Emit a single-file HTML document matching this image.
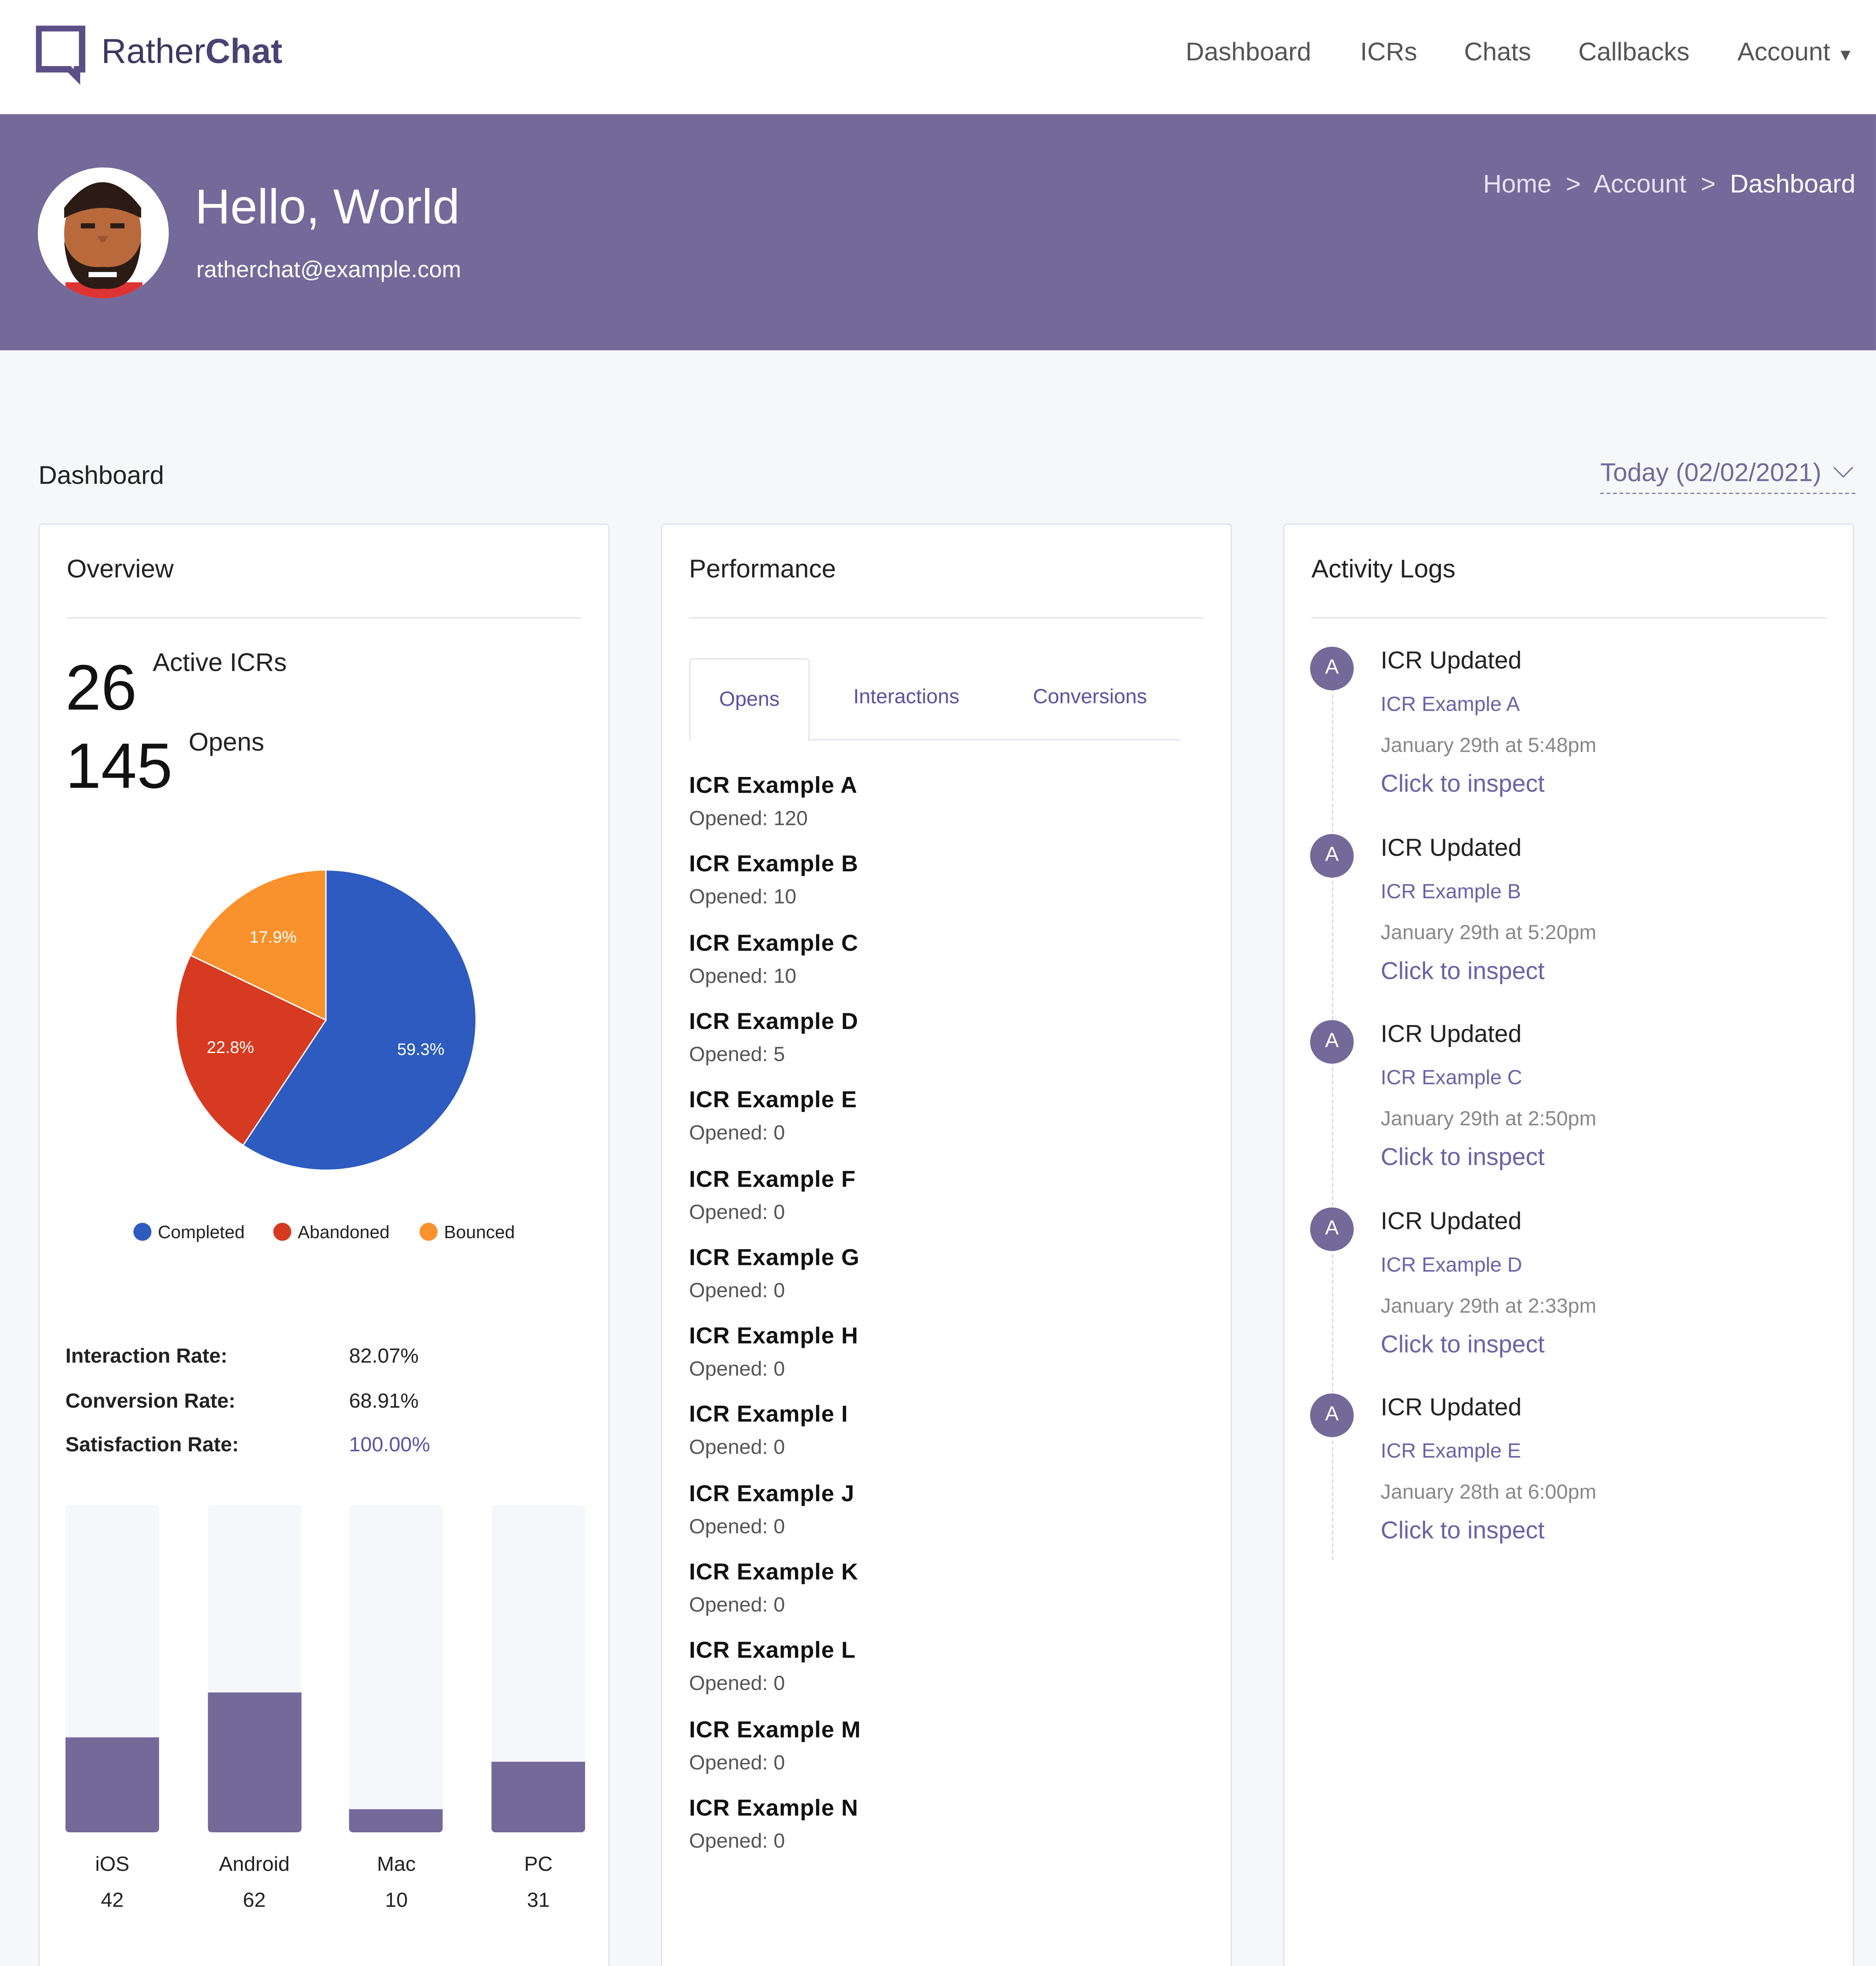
<!DOCTYPE html>
<html><head><meta charset="utf-8">
<style>
*{box-sizing:border-box;margin:0;padding:0}
html,body{width:4771px;height:5117px;overflow:hidden;background:#f6f7f9}
#root{width:1462px;height:1568px;transform:scale(3.2633);transform-origin:0 0;position:relative;font-family:"Liberation Sans",sans-serif;color:#222;background:#f6f7f9;overflow:hidden}
.abs{position:absolute;white-space:nowrap}
.card{position:absolute;top:408px;width:445px;height:1147px;background:#fff;border:1px solid #e3e3ec;border-radius:3px}
.ct{position:absolute;left:21px;top:24px;font-size:20px;color:#222}
.rule{position:absolute;left:21px;right:21px;top:72px;border-top:1px solid #e3e3ec}
.nav{font-size:20px;color:#555;top:30px}
.it{position:absolute;left:21px;white-space:nowrap}
.it b{display:block;font-size:18px;color:#111;letter-spacing:.3px}
.it span{display:block;font-size:16px;color:#555;margin-top:7px}
.log{position:absolute;left:20px}
.av{position:absolute;left:0;top:0;width:34px;height:34px;border-radius:50%;background:#736a9a;color:#fff;font-size:16px;text-align:center;line-height:34px}
.lt{position:absolute;left:55px;white-space:nowrap}
</style></head><body>
<div id="root">
<div class="abs" style="left:0;top:0;width:1462px;height:89px;background:#fff"></div>
<svg class="abs" style="left:28px;top:20px" width="40" height="48" viewBox="0 0 40 48"><path d="M2 2H36V34H32V40L26 34H2Z" fill="none" stroke="#5a4f86" stroke-width="5"/></svg>
<div class="abs" style="left:79px;top:25px;font-size:27px;color:#3d3760">Rather<b style="color:#4a4272">Chat</b></div>
<div class="abs nav" style="left:924px">Dashboard</div>
<div class="abs nav" style="left:1060px">ICRs</div>
<div class="abs nav" style="left:1141px">Chats</div>
<div class="abs nav" style="left:1230px">Callbacks</div>
<div class="abs nav" style="left:1354px">Account <span style="font-size:13px">▼</span></div>

<div class="abs" style="left:0;top:89px;width:1462px;height:184px;background:#736a9a"></div>
<svg class="abs" style="left:29px;top:130px" width="103" height="103" viewBox="0 0 103 103">
<circle cx="51.5" cy="51.5" r="51" fill="#fff"/>
<clipPath id="cc"><circle cx="51.5" cy="51.5" r="51"/></clipPath>
<g clip-path="url(#cc)"><rect x="22" y="90" width="60" height="20" fill="#d33"/>
<ellipse cx="51" cy="52" rx="30" ry="40" fill="#b86a3c"/>
<path d="M21 32Q51 -8 81 32L81 40Q51 24 21 40Z" fill="#2a1c14"/>
<path d="M21 58Q24 98 51 95Q78 98 81 58Q74 80 51 78Q28 80 21 58Z" fill="#2a1c14"/>
<rect x="34" y="44" width="11" height="4" fill="#2a1c14"/><rect x="57" y="44" width="11" height="4" fill="#2a1c14"/>
<path d="M47 54Q51 64 55 54" fill="#9a5530"/>
<rect x="40" y="82" width="22" height="4" fill="#fff"/></g></svg>
<div class="abs" style="left:152px;top:141px;font-size:38px;color:#fff">Hello, World</div>
<div class="abs" style="left:153px;top:200px;font-size:18px;color:#fff">ratherchat@example.com</div>
<div class="abs" style="right:16px;top:133px;font-size:20px;color:#e6e3f0"><span>Home</span> &nbsp;&gt;&nbsp; <span>Account</span> &nbsp;&gt;&nbsp; <span style="color:#fff">Dashboard</span></div>

<div class="abs" style="left:30px;top:360px;font-size:20px">Dashboard</div>
<div class="abs" style="right:16px;top:358px;font-size:20px;color:#736a9a;border-bottom:1.5px dashed #8a82ad;padding-bottom:3px">Today (02/02/2021) <span style="display:inline-block;width:11px;height:11px;border-right:1.5px solid #736a9a;border-bottom:1.5px solid #736a9a;transform:rotate(45deg);margin:0 4px 5px 6px"></span></div>

<div class="card" style="left:30px">
<div class="ct">Overview</div><div class="rule"></div>
<div class="abs" style="left:20px;top:98px;font-size:50px;color:#111">26</div>
<div class="abs" style="left:88px;top:97px;font-size:20px">Active ICRs</div>
<div class="abs" style="left:20px;top:159px;font-size:50px;color:#111">145</div>
<div class="abs" style="left:116px;top:159px;font-size:20px">Opens</div>
<svg class="abs" id="pie" style="left:0;top:250px" width="445" height="330"></svg>
<div class="abs" style="left:20px;top:632px;font-size:16px;font-weight:bold;line-height:34.5px">Interaction Rate:<br>Conversion Rate:<br>Satisfaction Rate:</div>
<div class="abs" style="left:241px;top:632px;font-size:16px;line-height:34.5px">82.07%<br>68.91%<br><span style="color:#5b53a0">100.00%</span></div>
<div id="bars"></div>
</div>

<div class="card" style="left:515px">
<div class="ct">Performance</div><div class="rule"></div>
<div class="abs" style="left:21px;top:167px;width:383px;border-top:1px solid #e3e3ec"></div>
<div class="abs" style="left:21px;top:104px;width:94px;height:64px;border:1px solid #e3e3ec;border-bottom:none;background:#fff;border-radius:3px 3px 0 0;font-size:16px;color:#5b53a0;text-align:center;line-height:64px">Opens</div>
<div class="abs" style="left:149px;top:126px;font-size:16px;color:#5b53a0">Interactions</div>
<div class="abs" style="left:289px;top:126px;font-size:16px;color:#5b53a0">Conversions</div>
<div id="list"></div>
</div>

<div class="card" style="left:1000px">
<div class="ct">Activity Logs</div><div class="rule"></div>
<div class="abs" style="left:37px;top:112px;height:695px;border-left:1.5px dashed #d8d6e6"></div>
<div id="logs"></div>
</div>
</div>
<script>
var pieLabels=["Completed","Abandoned","Bounced"];
var pieValues=[59.3,22.8,17.9];
var pieColors=["#2d5bbf","#d63a20","#f9912c"];
var devCats=["iOS","Android","Mac","PC"];
var devVals=[42,62,10,31];
var devMax=145;
var icrNames=["A","B","C","D","E","F","G","H","I","J","K","L","M","N"];
var icrOpens=[120,10,10,5,0,0,0,0,0,0,0,0,0,0];
var logItems=["A","B","C","D","E"];
var logTimes=["January 29th at 5:48pm","January 29th at 5:20pm","January 29th at 2:50pm","January 29th at 2:33pm","January 28th at 6:00pm"];

var NS="http://www.w3.org/2000/svg";
var pie=document.getElementById('pie');
var cx=223,cy=136,r=117,tot=pieValues.reduce(function(a,b){return a+b},0),a0=-Math.PI/2;
pieValues.forEach(function(v,i){
 var a1=a0+v/tot*2*Math.PI;
 var p=document.createElementNS(NS,'path');
 
 
 var lg=(a1-a0)>Math.PI?1:0;
 p.setAttribute('d','M'+cx+' '+cy+'L'+(cx+r*Math.cos(a0))+' '+(cy+r*Math.sin(a0))+'A'+r+' '+r+' 0 '+lg+' 1 '+(cx+r*Math.cos(a1))+' '+(cy+r*Math.sin(a1))+'Z');
 p.setAttribute('fill',pieColors[i]);p.setAttribute('stroke','#fff');p.setAttribute('stroke-width','1');
 pie.appendChild(p);
 var m=(a0+a1)/2,t=document.createElementNS(NS,'text');
 
 
 t.setAttribute('x',cx+r*0.66*Math.cos(m));t.setAttribute('y',cy+r*0.66*Math.sin(m)+5);
 t.setAttribute('text-anchor','middle');t.setAttribute('fill','#fff');t.setAttribute('font-size','13');t.setAttribute('font-family','Liberation Sans');
 t.textContent=v.toFixed(1)+'%';pie.appendChild(t);
 a0=a1;
});
var lx=[80,189,303];
pieLabels.forEach(function(l,i){
 var c=document.createElementNS(NS,'circle');
 
 
 c.setAttribute('cx',lx[i]);c.setAttribute('cy',301);c.setAttribute('r',7);c.setAttribute('fill',pieColors[i]);pie.appendChild(c);
 var t=document.createElementNS(NS,'text');
 
 
 t.setAttribute('x',lx[i]+12);t.setAttribute('y',306);t.setAttribute('font-size','14');t.setAttribute('font-family','Liberation Sans');t.setAttribute('fill','#222');
 t.textContent=l;pie.appendChild(t);
});
var bars=document.getElementById('bars'),trackTop=764,trackH=255,bx0=20,bstep=110.7,bw=73;
devCats.forEach(function(c,i){
 var x=bx0+i*bstep;
 var tr=document.createElement('div');
 
 
 tr.style.cssText='position:absolute;left:'+x+'px;top:'+trackTop+'px;width:'+bw+'px;height:'+trackH+'px;background:#f6f7fb;border-radius:3px;overflow:hidden';
 var h=devVals[i]/devMax*trackH;
 var b=document.createElement('div');
 
 
 b.style.cssText='position:absolute;left:0;bottom:0;width:100%;height:'+h+'px;background:#736a9a';
 tr.appendChild(b);bars.appendChild(tr);
 var l=document.createElement('div');
 
 
 l.style.cssText='position:absolute;left:'+x+'px;width:'+bw+'px;top:1031px;text-align:center;font-size:16px;line-height:28px';
 l.innerHTML=c+'<br>'+devVals[i];bars.appendChild(l);
});
var list=document.getElementById('list');
icrNames.forEach(function(n,i){
 var d=document.createElement('div');
 
 
 d.className='it';d.style.top=(193+i*61.3)+'px';
 d.innerHTML='<b>ICR Example '+n+'</b><span>Opened: '+icrOpens[i]+'</span>';
 list.appendChild(d);
});
var logs=document.getElementById('logs');
logItems.forEach(function(n,i){
 var d=document.createElement('div');
 
 
 d.className='log';d.style.top=(95+i*145.5)+'px';
 d.innerHTML='<div class="av">A</div><div class="lt" style="top:1px;font-size:19px;color:#222">ICR Updated</div>'+
 '<div class="lt" style="top:37px;font-size:16px;color:#6b63a5">ICR Example '+n+'</div>'+
 '<div class="lt" style="top:69px;font-size:16px;color:#888">'+logTimes[i]+'</div>'+
 '<div class="lt" style="top:97px;font-size:19px;color:#6b63a5">Click to inspect</div>';
 logs.appendChild(d);
});
</script>
</body></html>
